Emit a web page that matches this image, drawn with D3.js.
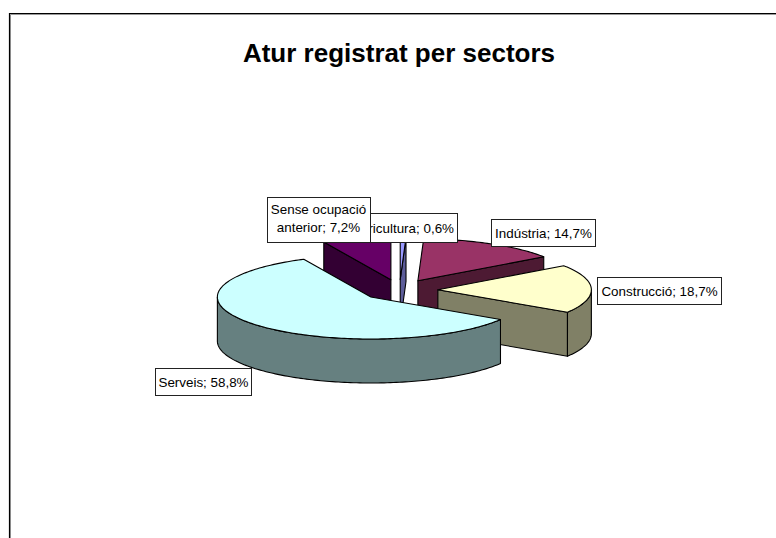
<!DOCTYPE html>
<html><head><meta charset="utf-8">
<script src="https://cdn.jsdelivr.net/npm/d3@7"></script>
<style>html,body{margin:0;padding:0;background:#fff}svg{display:block}</style>
</head><body><svg id="c" width="776" height="538"></svg>
<script>
const categories=["Agricultura","Indústria","Construcció","Serveis","Sense ocupació anterior"];
const values=[0.6,14.7,18.7,58.8,7.2];
const valueLabels=["0,6%","14,7%","18,7%","58,8%","7,2%"];
const topColors=["#9999ff","#993366","#ffffcc","#ccffff","#660066"];
const sideColors=["#5c5c99","#4d1a33","#808066","#668080","#330033"];
const labelBoxes=[[348,213,109,29],[491,219,104,27],[597,277,124,27],[155,368,96,27],[267,197,103,45]];
const paintOrder=[4,0,1,2,3];
const labelOrder=[1,2,3,0,4];

const svg=d3.select("#c");
const cx=399.5,cy=290,rx=153.5,ry=42,depth=44,explode=0.25;
// frame: only top and left edges are visible; it runs off the right and bottom of the picture
svg.append("path").attr("d","M10.5,538V14.5H776").attr("fill","none").attr("stroke","#999").attr("stroke-width",1);
svg.append("path").attr("d","M9.5,538V13.5H776").attr("fill","none").attr("stroke","#000").attr("stroke-width",1.2);
svg.append("text").attr("x",399).attr("y",62).attr("text-anchor","middle")
  .attr("font-family","'Liberation Sans',Arial,sans-serif").attr("font-weight","bold").attr("font-size",26).text("Atur registrat per sectors");

// pie layout: clockwise starting at the top
const pie=d3.pie().sort(null).value(d=>d).startAngle(0).endAngle(2*Math.PI);
const arcs=pie(values);
const ex=d3.scaleLinear().domain([-1,1]).range([-rx,rx]);
const ey=d3.scaleLinear().domain([-1,1]).range([-ry,ry]);
const P=(a,ox,oy,dy=0)=>[ox+ex(Math.sin(a)),oy-ey(Math.cos(a))+dy];
function rim(a0,a1,ox,oy,dy=0){const n=Math.max(2,Math.ceil((a1-a0)/0.02));return d3.range(n+1).map(i=>P(a0+(a1-a0)*i/n,ox,oy,dy));}
const line=d3.line();
paintOrder.forEach(i=>{
  const s=arcs[i],mid=(s.startAngle+s.endAngle)/2;
  const ox=cx+explode*ex(Math.sin(mid)),oy=cy-explode*ey(Math.cos(mid));
  const g=svg.append("g").attr("stroke","#000").attr("stroke-width",1.1).attr("stroke-linejoin","round");
  const poly=(pts,fill)=>g.append("path").attr("d",line(pts)+"Z").attr("fill",fill);
  // cut faces: start edge visible when its rim lies left of apex, end edge when right
  const faces=[];
  if(Math.sin(s.startAngle)<0){const r=P(s.startAngle,ox,oy);faces.push([[ox,oy],r,[r[0],r[1]+depth],[ox,oy+depth]]);}
  if(Math.sin(s.endAngle)>0){const r=P(s.endAngle,ox,oy);faces.push([[ox,oy],r,[r[0],r[1]+depth],[ox,oy+depth]]);}
  faces.forEach(f=>poly(f,sideColors[i]));
  // outer wall: lower half of the ellipse
  const a0=Math.max(s.startAngle,Math.PI/2),a1=Math.min(s.endAngle,3*Math.PI/2);
  if(a1>a0){poly(rim(a0,a1,ox,oy).concat(rim(a0,a1,ox,oy,depth).reverse()),sideColors[i]);}
  poly([[ox,oy]].concat(rim(s.startAngle,s.endAngle,ox,oy)),topColors[i]);
});
labelOrder.forEach(i=>{
  const [x,y,w,h]=labelBoxes[i];
  const g=svg.append("g");
  g.append("rect").attr("x",x+.5).attr("y",y+.5).attr("width",w).attr("height",h).attr("fill","#fff").attr("stroke","#222").attr("stroke-width",1);
  const t=g.append("text").attr("font-family","'Liberation Sans',Arial,sans-serif").attr("font-size",13.4).attr("text-anchor","middle").attr("fill","#000");
  if(i===4){
    t.append("tspan").attr("x",x+w/2).attr("y",y+17).text("Sense ocupació");
    t.append("tspan").attr("x",x+w/2).attr("y",y+35).text("anterior; "+valueLabels[i]);
  } else {
    t.attr("x",x+w/2+.5).attr("y",y+h/2+5).text(categories[i]+"; "+valueLabels[i]);
  }
});
</script></body></html>
